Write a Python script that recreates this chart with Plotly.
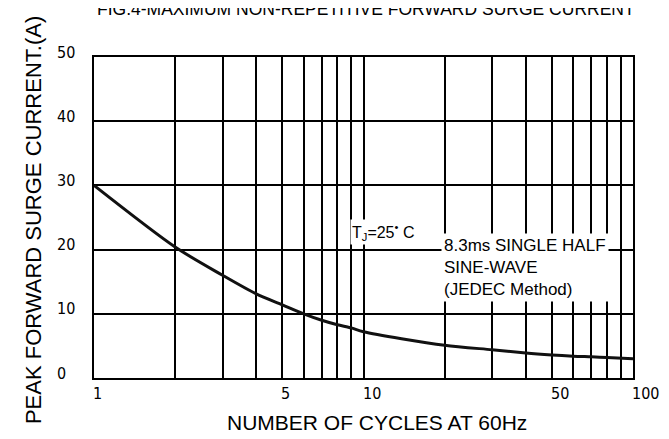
import math
import plotly.graph_objects as go

# Data
cycles = [1, 2, 3, 4, 5, 6, 7, 8, 9, 10, 20, 30, 40, 50, 60, 70, 80, 100]
surge_current = [30, 20.4, 16.0, 13.1, 11.4, 10.0, 9.0, 8.3, 7.8, 7.2, 5.1, 4.4, 3.9, 3.6, 3.4, 3.3, 3.2, 3.0]

x_grid_vals = [1, 2, 3, 4, 5, 6, 7, 8, 9, 10, 20, 30, 40, 50, 60, 70, 80, 90, 100]
x_label_vals = [1, 5, 10, 50, 100]
x_label_text = ["1", "5", "10", "50", "100"]
y_tick_vals = [0, 10, 20, 30, 40, 50]
y_tick_text = ["0", "10", "20", "30", "40", "50"]

title_text = "FIG.4-MAXIMUM NON-REPETITIVE FORWARD SURGE CURRENT"
x_title = "NUMBER OF CYCLES AT 60Hz"
y_title = "PEAK FORWARD SURGE CURRENT.(A)"

tick_font = dict(family="DejaVu Sans Condensed, DejaVu Sans", size=16, color="black")
text_font = "Liberation Sans, Arial, sans-serif"

fig = go.Figure()
fig.add_trace(go.Scatter(
    x=cycles, y=surge_current, mode="lines",
    line=dict(color="#111111", width=3, shape="spline", smoothing=0.8),
    showlegend=False, hoverinfo="skip",
))

annotations = []
for v, t in zip(x_label_vals, x_label_text):
    annotations.append(dict(text=t, xref="x", yref="paper", x=math.log10(v), y=-0.047,
                            xanchor="left", yanchor="middle", xshift=-3, showarrow=False,
                            font=tick_font))
for v, t in zip(y_tick_vals, y_tick_text):
    annotations.append(dict(text=t, xref="paper", yref="y", x=-0.0724, y=v,
                            xanchor="left", yanchor="middle", yshift=5, showarrow=False,
                            font=tick_font))

annotations += [
    dict(text=title_text, xref="paper", yref="paper", x=0.505, y=1.149,
         xanchor="center", yanchor="middle", showarrow=False,
         font=dict(family=text_font, size=17.5, color="black")),
    dict(text=x_title, xref="paper", yref="paper", x=0.525, y=-0.14,
         xanchor="center", yanchor="middle", showarrow=False,
         font=dict(family=text_font, size=21, color="black")),
    dict(text=y_title, xref="paper", yref="paper", x=-0.1132, y=0.492, textangle=-90,
         xanchor="center", yanchor="middle", showarrow=False,
         font=dict(family=text_font, size=22, color="black")),
    dict(text="T<sub>J</sub>=25<sup>•</sup> C", xref="x", yref="y", x=1.072, y=22.8,
         xanchor="center", yanchor="middle", showarrow=False, bgcolor="white",
         borderpad=1,
         font=dict(family=text_font, size=16, color="black")),
    dict(text="8.3ms SINGLE HALF<br>SINE-WAVE<br>(JEDEC Method)", xref="x", yref="y",
         x=1.288, y=22.6, xanchor="left", yanchor="top", align="left",
         showarrow=False, bgcolor="white", borderpad=2,
         font=dict(family=text_font, size=17, color="black")),
]

fig.update_layout(
    width=669, height=439,
    margin=dict(l=86, r=44, t=49, b=69),
    paper_bgcolor="white", plot_bgcolor="white",
    xaxis=dict(
        type="log", range=[0, 2],
        tickvals=x_grid_vals, showticklabels=False,
        showgrid=True, gridcolor="black", gridwidth=2,
        showline=True, linecolor="black", linewidth=2, mirror=True,
        ticks="", zeroline=False,
    ),
    yaxis=dict(
        range=[0, 50],
        tickvals=y_tick_vals, showticklabels=False,
        showgrid=True, gridcolor="black", gridwidth=2,
        showline=True, linecolor="black", linewidth=2, mirror=True,
        ticks="", zeroline=False,
    ),
    annotations=annotations,
)

fig.write_html("out.html")
